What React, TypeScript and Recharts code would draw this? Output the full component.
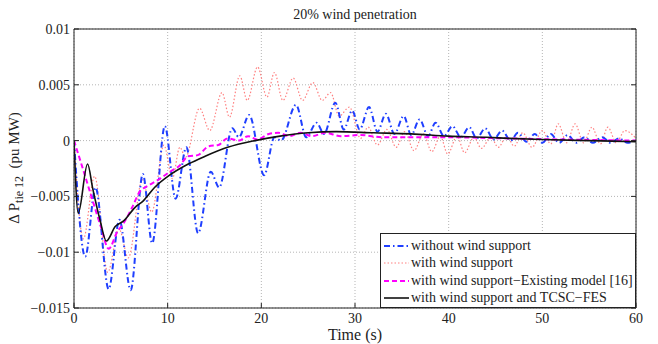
import React from 'react';
import { LineChart, Line, XAxis, YAxis, CartesianGrid, Legend } from 'recharts';

const xTicks = [0, 10, 20, 30, 40, 50, 60];
const yTicks = [-0.015, -0.01, -0.005, 0, 0.005, 0.01];

// [time (s), ΔP tie12 (pu MW)] – at peaks / troughs
const withoutSupport: [number, number][] = [
  [0, 0], [1.2, -0.0104], [2.3, -0.0042], [3.7, -0.0133], [4.85, -0.0071],
  [6.05, -0.0134], [7.35, -0.003], [8.35, -0.0092], [9.7, 0.0013], [10.85, -0.0052],
  [12.0, -0.0006], [13.25, -0.0083], [14.6, -0.0028], [15.5, -0.0042], [16.9, 0.0011],
  [17.6, 0.0003], [18.7, 0.0023], [20.3, -0.0031], [21.4, 0.0003], [22.1, 0.0],
  [23.7, 0.0032], [24.8, 0.0003], [25.9, 0.0016], [26.7, 0.0006], [27.9, 0.0034],
  [28.8, 0.001], [29.7, 0.0027], [30.5, 0.001], [31.5, 0.003], [32.4, 0.0008],
  [33.3, 0.0024], [34.2, 0.0006], [35.2, 0.0022], [36.0, 0.0005], [36.9, 0.0019],
  [37.8, 0.0004], [38.6, 0.0016], [39.5, 0.0004], [40.4, 0.0013], [41.3, 0.0003],
  [42.2, 0.0012], [43.0, 0.0002], [43.9, 0.0011], [44.8, 0.0001], [45.7, 0.0009],
  [46.6, 0.0], [47.4, 0.0007], [48.3, -0.0001], [49.2, 0.0006], [50.0, -0.0002],
  [50.9, 0.0006], [51.8, -0.0002], [52.7, 0.0005], [53.6, -0.0002], [54.5, 0.0003],
  [55.4, -0.0002], [56.4, 0.0003], [57.3, -0.0002], [58.2, 0.0002], [59.1, -0.0002],
  [60, 0.0001],
];

const withSupport: [number, number][] = [
  [0, 0], [1.0, -0.0088], [2.2, -0.0032], [3.6, -0.0118], [4.8, -0.0079],
  [5.8, -0.0105], [7.3, -0.0035], [8.3, -0.0064], [9.6, -0.0004], [10.5, -0.0034],
  [11.3, -0.0006], [11.9, -0.0015], [13.4, 0.0029], [14.5, 0.0009], [15.8, 0.0043],
  [16.6, 0.0021], [17.7, 0.0058], [18.5, 0.0036], [19.6, 0.0066], [20.6, 0.0039],
  [21.4, 0.0061], [22.3, 0.0036], [23.4, 0.0056], [24.4, 0.0036], [25.5, 0.0052],
  [26.5, 0.0036], [27.4, 0.0043], [28.3, 0.0022], [29.4, 0.003], [30.6, 0.0002],
  [31.4, 0.0012], [32.4, -0.0004], [33.4, 0.001], [34.4, -0.0006], [35.3, 0.0008],
  [36.3, -0.0009], [37.3, 0.0006], [38.2, -0.001], [39.1, 0.0004], [39.9, -0.0012],
  [40.9, 0.0004], [41.7, -0.0011], [42.7, 0.0003], [43.5, -0.0007], [44.5, 0.0003],
  [45.3, -0.0006], [46.2, 0.0004], [47.0, -0.0005], [47.9, 0.0007], [48.9, -0.0006],
  [50.0, 0.0009], [50.9, -0.0003], [51.7, 0.0015], [52.6, -0.0002], [53.5, 0.0015],
  [54.4, -0.0002], [55.3, 0.0012], [56.2, -0.0003], [57.0, 0.0012], [57.9, -0.0002],
  [58.8, 0.0009], [60, 0.0002],
];

const existingModel: [number, number][] = [
  [0, 0], [0.9, -0.0024], [2.0, -0.0054], [2.9, -0.0078], [3.7, -0.0097],
  [4.6, -0.0082], [5.3, -0.0074], [6.2, -0.006], [7.0, -0.0046], [8.0, -0.004],
  [9.2, -0.0034], [10.4, -0.0027], [11.2, -0.0023], [12.2, -0.0014], [13.2, -0.0013],
  [14.4, -0.0005], [15.4, -0.0004], [16.4, 0.0002], [17.6, 0.0], [18.6, 0.0004],
  [19.6, 0.0001], [20.8, 0.0006], [21.8, 0.0007], [23.0, 0.0004], [24.2, 0.0007],
  [25.4, 0.0004], [26.8, 0.0007], [28.5, 0.0004], [30.5, 0.0005], [33, 0.0003],
  [40, 0.0003], [46, 0.0002], [52, 0.0001], [60, 0.0],
];

const tcscFes: [number, number][] = [
  [0, 0], [0.45, -0.0065], [1.45, -0.0021], [2.0, -0.0043], [2.8, -0.0072],
  [3.45, -0.009], [4.4, -0.0077], [5.3, -0.0072], [6.5, -0.006], [7.4, -0.0054],
  [8.6, -0.0042], [10.2, -0.0031], [12.2, -0.0021], [14.0, -0.0014], [16.4, -0.0006],
  [19.3, 0.0], [22.0, 0.0004], [25.0, 0.0007], [28.0, 0.0008], [32.0, 0.0007],
  [36.0, 0.0006], [40.0, 0.0004], [44.0, 0.0003], [46.5, 0.0002], [50.0, 0.0001],
  [55.0, 0.0], [60.0, -0.0001],
];

const FONT = 'Liberation Serif, DejaVu Serif, serif';
const INK = '#222';

const toRows = (pts: [number, number][]) => pts.map(([t, v]) => ({ t, v }));

// draw order: red under blue, black on top
const series = [
  { key: 'ws', name: 'with wind support', pts: withSupport, color: '#ff8080', width: 1.2, dash: '1.5 2' },
  { key: 'ns', name: 'without wind support', pts: withoutSupport, color: '#1f3fff', width: 2, dash: '6 3 1.5 3' },
  { key: 'em', name: 'with wind support\u2212Existing model [16]', pts: existingModel, color: '#ff00ff', width: 2, dash: '5 3' },
  { key: 'tc', name: 'with wind support and TCSC\u2212FES', pts: tcscFes, color: '#111111', width: 1.6, dash: undefined },
];
const legendOrder = ['ns', 'ws', 'em', 'tc'];

const fmtY = (v: number) => (v === 0 ? '0' : String(v).replace('-', '\u2212'));

function YLabel() {
  return (
    <text x={19} y={168} transform="rotate(-90 19 168)" textAnchor="middle" fill={INK} fontFamily={FONT} fontSize={15}>
      {'\u0394 P'}
      <tspan fontSize={12} dy={4}>tie 12</tspan>
      <tspan dy={-4}>{'\u00a0\u00a0(pu MW)'}</tspan>
    </text>
  );
}

function LegendBox() {
  return (
    <div style={{
      width: 256, height: 75, boxSizing: 'border-box', border: `1px solid ${INK}`,
      background: '#fff', paddingTop: 3, fontFamily: FONT, fontSize: 14, color: INK,
    }}>
      {legendOrder.map(k => {
        const s = series.find(x => x.key === k)!;
        return (
          <div key={k} style={{ height: 17.5, display: 'flex', alignItems: 'center', whiteSpace: 'nowrap' }}>
            <svg width={28} height={10} style={{ marginLeft: 2 }}>
              <line x1={1} y1={5} x2={26} y2={5} stroke={s.color} strokeWidth={s.width} strokeDasharray={s.dash} />
            </svg>
            <span>{s.name}</span>
          </div>
        );
      })}
    </div>
  );
}

export default function App() {
  const tick = { fill: INK, fontSize: 14, fontFamily: FONT };
  return (
    <div style={{ position: 'absolute', left: 0, top: 0, width: 658, height: 344, background: '#fff', fontFamily: FONT }}>
      <LineChart width={658} height={344} margin={{ top: 0, right: 0, bottom: 6, left: 14 }}>
        <CartesianGrid stroke="#b5b5b5" strokeDasharray="1 2" />
        <XAxis
          type="number" dataKey="t" domain={[0, 60]} ticks={xTicks} allowDataOverflow
          height={30} tickSize={-5} tickMargin={10} stroke={INK} tick={tick}
          label={{ value: 'Time (s)', position: 'insideBottom', offset: -2, fill: INK, fontSize: 16, fontFamily: FONT }}
        />
        <XAxis
          xAxisId="top" orientation="top" type="number" domain={[0, 60]} ticks={xTicks} allowDataOverflow
          height={29} tickSize={-5} tickFormatter={() => ''} stroke={INK}
          label={{ value: '20% wind penetration', position: 'center', fill: INK, fontSize: 14, fontFamily: FONT }}
        />
        <YAxis
          type="number" domain={[-0.015, 0.01]} ticks={yTicks} allowDataOverflow
          width={60} tickSize={-5} tickMargin={9} stroke={INK} tick={tick} tickFormatter={fmtY}
          label={{ content: () => <YLabel /> }}
        />
        <YAxis
          yAxisId="right" orientation="right" type="number" domain={[-0.015, 0.01]} ticks={yTicks} allowDataOverflow
          width={22} tickSize={-5} tickFormatter={() => ''} stroke={INK}
        />
        {series.map(s => (
          <Line
            key={s.key} name={s.name} data={toRows(s.pts)} dataKey="v" type="monotone"
            stroke={s.color} strokeWidth={s.width} strokeDasharray={s.dash}
            dot={false} activeDot={false} isAnimationActive={false}
          />
        ))}
        <Legend
          layout="vertical" align="center" verticalAlign="middle"
          wrapperStyle={{ left: 380, top: 233, width: 256, height: 75 }}
          content={() => <LegendBox />}
        />
      </LineChart>
    </div>
  );
}
